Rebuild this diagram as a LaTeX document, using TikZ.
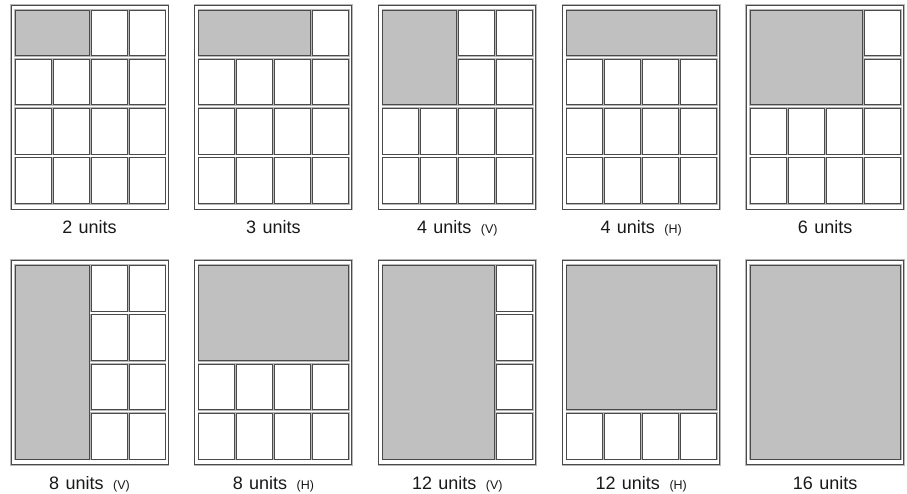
\documentclass[tikz,border=0pt]{standalone}
\usepackage{fontspec}
\setmainfont{Liberation Sans}
\definecolor{shade}{HTML}{C0C0C0}
\definecolor{edge}{HTML}{4A4A4A}
\definecolor{halo}{HTML}{B8B8B8}
\tikzset{
  twoline/.style={preaction={draw=halo,line width=2.4pt},draw=edge,line width=1pt},
  outerbox/.style={twoline,fill=white},
  cellbox/.style={twoline,fill=white},
  graybox/.style={twoline,fill=shade},
  lab/.style={anchor=base,inner sep=0pt,text=black!90,font=\fontsize{18}{20}\selectfont},
}
\newcommand\smalltag[1]{\hspace{9.5pt}{\fontsize{12.5}{14}\selectfont(#1)}}
\newcommand\drawonecell[2]{\draw[cellbox] ({4+#1*38},{5+#2*49.3}) rectangle ++(36,45.5);}
\newcommand\mypanel[5]{%
  \begin{scope}[shift={(#1,#2)}]
    \draw[outerbox] (0,0) rectangle (157,204);
    \draw[graybox] (4,5) rectangle ({4+(#3-1)*38+36},{5+(#4-1)*49.3+45.5});
    \foreach \c in {0,...,3}{\foreach \r in {0,...,3}{%
      \ifnum\c<#3 \ifnum\r<#4 \relax\else\drawonecell{\c}{\r}\fi\else\drawonecell{\c}{\r}\fi
    }}
    \node[lab] (#5) at (78.5,228.5) {\labeltext};
  \end{scope}}
\begin{document}
\begin{tikzpicture}[x=1pt,y=-1pt]
\useasboundingbox (0,0) rectangle (907,493);
\fill[white] (0,0) rectangle (907,493);
\def\labeltext{2\hspace{6.4pt}units}\mypanel{11}{5}{2}{1}{la}
\def\labeltext{3\hspace{6.4pt}units}\mypanel{194.9}{5}{3}{1}{lb}
\def\labeltext{4\hspace{6.4pt}units\smalltag{V}}\mypanel{378.8}{5}{2}{2}{lc}
\def\labeltext{4\hspace{6.4pt}units\smalltag{H}}\mypanel{562.7}{5}{4}{1}{ld}
\def\labeltext{6\hspace{6.4pt}units}\mypanel{746.6}{5}{3}{2}{le}
\def\labeltext{8\hspace{6.4pt}units\smalltag{V}}\mypanel{11}{260.6}{2}{4}{lf}
\def\labeltext{8\hspace{6.4pt}units\smalltag{H}}\mypanel{194.9}{260.6}{4}{2}{lg}
\def\labeltext{12\hspace{6.4pt}units\smalltag{V}}\mypanel{378.8}{260.6}{3}{4}{lh}
\def\labeltext{12\hspace{6.4pt}units\smalltag{H}}\mypanel{562.7}{260.6}{4}{3}{li}
\def\labeltext{16\hspace{6.4pt}units}\mypanel{746.6}{260.6}{4}{4}{lj}
\end{tikzpicture}
\end{document}
